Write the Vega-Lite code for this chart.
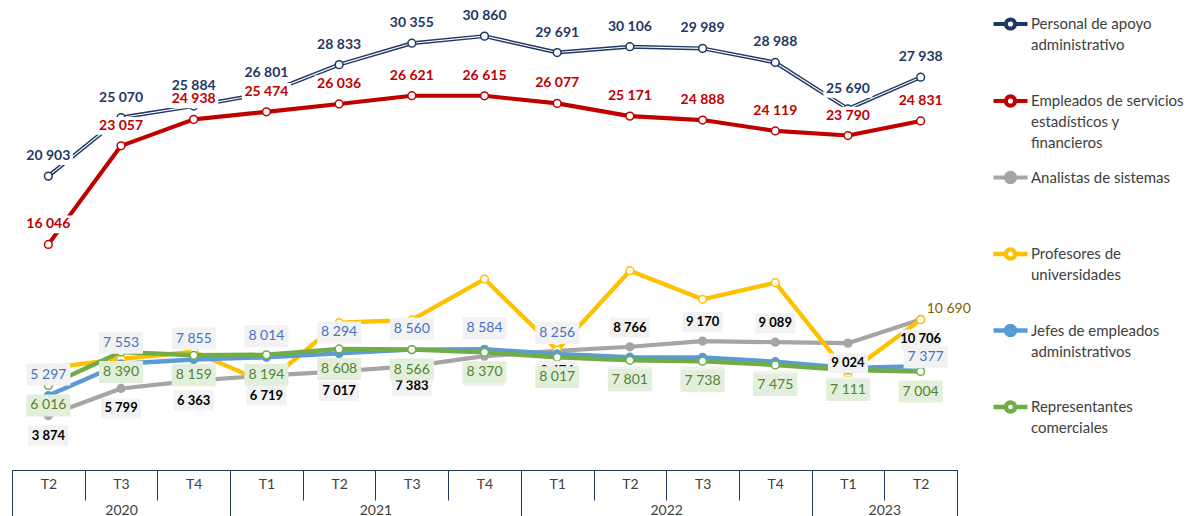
{
"$schema": "https://vega.github.io/schema/vega-lite/v6.json",
"width": 945, "height": 470,
"autosize": {"type": "none"},
"padding": {"left": 12, "top": 0, "right": 241, "bottom": 46},
"config": {"view": {"stroke": null}, "font": "Lato",
  "locale": {"number": {"decimal": ",", "thousands": "\u00a0", "grouping": [3], "currency": ["", "\u00a0€"]}}},
"data": {"values": [
{"p":"2020-T2","s":"Personal de apoyo administrativo","v":20903},
{"p":"2020-T3","s":"Personal de apoyo administrativo","v":25070},
{"p":"2020-T4","s":"Personal de apoyo administrativo","v":25884},
{"p":"2021-T1","s":"Personal de apoyo administrativo","v":26801},
{"p":"2021-T2","s":"Personal de apoyo administrativo","v":28833},
{"p":"2021-T3","s":"Personal de apoyo administrativo","v":30355},
{"p":"2021-T4","s":"Personal de apoyo administrativo","v":30860},
{"p":"2022-T1","s":"Personal de apoyo administrativo","v":29691},
{"p":"2022-T2","s":"Personal de apoyo administrativo","v":30106},
{"p":"2022-T3","s":"Personal de apoyo administrativo","v":29989},
{"p":"2022-T4","s":"Personal de apoyo administrativo","v":28988},
{"p":"2023-T1","s":"Personal de apoyo administrativo","v":25690},
{"p":"2023-T2","s":"Personal de apoyo administrativo","v":27938},
{"p":"2020-T2","s":"Empleados de servicios estadísticos y financieros","v":16046},
{"p":"2020-T3","s":"Empleados de servicios estadísticos y financieros","v":23057},
{"p":"2020-T4","s":"Empleados de servicios estadísticos y financieros","v":24938},
{"p":"2021-T1","s":"Empleados de servicios estadísticos y financieros","v":25474},
{"p":"2021-T2","s":"Empleados de servicios estadísticos y financieros","v":26036},
{"p":"2021-T3","s":"Empleados de servicios estadísticos y financieros","v":26621},
{"p":"2021-T4","s":"Empleados de servicios estadísticos y financieros","v":26615},
{"p":"2022-T1","s":"Empleados de servicios estadísticos y financieros","v":26077},
{"p":"2022-T2","s":"Empleados de servicios estadísticos y financieros","v":25171},
{"p":"2022-T3","s":"Empleados de servicios estadísticos y financieros","v":24888},
{"p":"2022-T4","s":"Empleados de servicios estadísticos y financieros","v":24119},
{"p":"2023-T1","s":"Empleados de servicios estadísticos y financieros","v":23790},
{"p":"2023-T2","s":"Empleados de servicios estadísticos y financieros","v":24831},
{"p":"2020-T2","s":"Analistas de sistemas","v":3874},
{"p":"2020-T3","s":"Analistas de sistemas","v":5799},
{"p":"2020-T4","s":"Analistas de sistemas","v":6363},
{"p":"2021-T1","s":"Analistas de sistemas","v":6719},
{"p":"2021-T2","s":"Analistas de sistemas","v":7017},
{"p":"2021-T3","s":"Analistas de sistemas","v":7383},
{"p":"2021-T4","s":"Analistas de sistemas","v":8100},
{"p":"2022-T1","s":"Analistas de sistemas","v":8474},
{"p":"2022-T2","s":"Analistas de sistemas","v":8766},
{"p":"2022-T3","s":"Analistas de sistemas","v":9170},
{"p":"2022-T4","s":"Analistas de sistemas","v":9089},
{"p":"2023-T1","s":"Analistas de sistemas","v":9024},
{"p":"2023-T2","s":"Analistas de sistemas","v":10706},
{"p":"2020-T2","s":"Profesores de universidades","v":7254},
{"p":"2020-T3","s":"Profesores de universidades","v":7895},
{"p":"2020-T4","s":"Profesores de universidades","v":8414},
{"p":"2021-T1","s":"Profesores de universidades","v":6188},
{"p":"2021-T2","s":"Profesores de universidades","v":10476},
{"p":"2021-T3","s":"Profesores de universidades","v":10670},
{"p":"2021-T4","s":"Profesores de universidades","v":13585},
{"p":"2022-T1","s":"Profesores de universidades","v":8535},
{"p":"2022-T2","s":"Profesores de universidades","v":14175},
{"p":"2022-T3","s":"Profesores de universidades","v":12141},
{"p":"2022-T4","s":"Profesores de universidades","v":13322},
{"p":"2023-T1","s":"Profesores de universidades","v":6877},
{"p":"2023-T2","s":"Profesores de universidades","v":10690},
{"p":"2020-T2","s":"Jefes de empleados administrativos","v":5297},
{"p":"2020-T3","s":"Jefes de empleados administrativos","v":7553},
{"p":"2020-T4","s":"Jefes de empleados administrativos","v":7855},
{"p":"2021-T1","s":"Jefes de empleados administrativos","v":8014},
{"p":"2021-T2","s":"Jefes de empleados administrativos","v":8294},
{"p":"2021-T3","s":"Jefes de empleados administrativos","v":8560},
{"p":"2021-T4","s":"Jefes de empleados administrativos","v":8584},
{"p":"2022-T1","s":"Jefes de empleados administrativos","v":8256},
{"p":"2022-T2","s":"Jefes de empleados administrativos","v":8020},
{"p":"2022-T3","s":"Jefes de empleados administrativos","v":8010},
{"p":"2022-T4","s":"Jefes de empleados administrativos","v":7700},
{"p":"2023-T1","s":"Jefes de empleados administrativos","v":7264},
{"p":"2023-T2","s":"Jefes de empleados administrativos","v":7377},
{"p":"2020-T2","s":"Representantes comerciales","v":6016},
{"p":"2020-T3","s":"Representantes comerciales","v":8390},
{"p":"2020-T4","s":"Representantes comerciales","v":8159},
{"p":"2021-T1","s":"Representantes comerciales","v":8194},
{"p":"2021-T2","s":"Representantes comerciales","v":8608},
{"p":"2021-T3","s":"Representantes comerciales","v":8566},
{"p":"2021-T4","s":"Representantes comerciales","v":8370},
{"p":"2022-T1","s":"Representantes comerciales","v":8017},
{"p":"2022-T2","s":"Representantes comerciales","v":7801},
{"p":"2022-T3","s":"Representantes comerciales","v":7738},
{"p":"2022-T4","s":"Representantes comerciales","v":7475},
{"p":"2023-T1","s":"Representantes comerciales","v":7111},
{"p":"2023-T2","s":"Representantes comerciales","v":7004}
]},
"layer": [
 {
  "encoding": {
    "x": {"field": "p", "type": "ordinal", "scale": {"type": "point", "padding": 0.5},
      "axis": {"orient": "bottom", "title": null, "ticks": false, "grid": false, "labelPadding": 7,
        "labelExpr": "substring(datum.value, 5)", "labelFont": "Lato", "labelFontSize": 14, "labelColor": "#404040",
        "labelAngle": 0, "domainColor": "#1F3864", "domainWidth": 1}},
    "y": {"field": "v", "type": "quantitative", "scale": {"domain": [0, 33430], "nice": false, "zero": true}, "axis": null}
  },
  "layer": [
    {"mark": {"type": "line", "strokeJoin": "round"},
     "encoding": {
       "stroke": {"field": "s", "type": "nominal",
         "scale": {"domain": ["Personal de apoyo administrativo","Empleados de servicios estadísticos y financieros","Analistas de sistemas","Profesores de universidades","Jefes de empleados administrativos","Representantes comerciales"],
                   "range": ["#1F3864","#C00000","#A5A5A5","#FFC000","#5B9BD5","#70AD47"]},
         "legend": {"orient": "none", "legendX": 979, "legendY": 5, "title": null, "padding": 0,
           "symbolType": "M-1,0H-0.27M0.27,0H1M-0.27,0A0.27,0.27 0 1,1 0.27,0A0.27,0.27 0 1,1 -0.27,0",
           "symbolSize": 1156, "symbolStrokeWidth": 2.8, "labelFont": "Lato", "labelFontSize": 15, "labelColor": "#404040",
           "labelLimit": 0, "labelOffset": 1, "gridAlign": "all", "rowPadding": 6.5,
           "encoding": {"labels": {"lineHeight": {"value": 21}}},
           "labelExpr": "datum.label == 'Personal de apoyo administrativo' ? ['Personal de apoyo','administrativo'] : datum.label == 'Empleados de servicios estadísticos y financieros' ? ['Empleados de servicios','estadísticos y','financieros'] : datum.label == 'Profesores de universidades' ? ['Profesores de','universidades'] : datum.label == 'Jefes de empleados administrativos' ? ['Jefes de empleados','administrativos'] : datum.label == 'Representantes comerciales' ? ['Representantes','comerciales'] : datum.label"}},
       "strokeWidth": {"field": "s", "type": "nominal", "legend": null,
         "scale": {"domain": ["Personal de apoyo administrativo","Empleados de servicios estadísticos y financieros","Analistas de sistemas","Profesores de universidades","Jefes de empleados administrativos","Representantes comerciales"],
                   "range": [4, 4.5, 3.5, 3, 3.5, 3.5]}}
     }},
    {"transform": [{"filter": "datum.s == 'Personal de apoyo administrativo'"}],
     "mark": {"type": "line", "stroke": "white", "strokeWidth": 1.1, "strokeJoin": "round"}, "encoding": {}},
    {"mark": {"type": "point", "filled": true, "size": 60, "strokeWidth": 1.5, "opacity": 1},
     "encoding": {
       "stroke": {"field": "s", "type": "nominal"},
       "fill": {"field": "s", "type": "nominal",
         "scale": {"domain": ["Personal de apoyo administrativo","Empleados de servicios estadísticos y financieros","Analistas de sistemas","Profesores de universidades","Jefes de empleados administrativos","Representantes comerciales"],
                   "range": ["white","white","#A5A5A5","white","#5B9BD5","white"]}}
     }},
    {"transform": [{"filter": "datum.s == 'Personal de apoyo administrativo' || datum.s == 'Empleados de servicios estadísticos y financieros'"}],
     "layer": [
       {"mark": {"type": "point", "shape": "M-1,-0.36H1V0.36H-1Z", "size": 2400, "filled": true, "fill": "white", "strokeWidth": 0, "opacity": 1, "yOffset": -20}},
       {"mark": {"type": "text", "font": "Lato", "fontSize": 14, "fontWeight": "bold", "baseline": "middle", "yOffset": -20},
        "encoding": {"text": {"field": "v", "type": "quantitative", "format": ","},
          "color": {"field": "s", "type": "nominal", "legend": null,
            "scale": {"domain": ["Personal de apoyo administrativo","Empleados de servicios estadísticos y financieros","Analistas de sistemas","Profesores de universidades","Jefes de empleados administrativos","Representantes comerciales"],
                      "range": ["#1F3864","#C00000","#000000","#7F6000","#4472C4","#548235"]}}}}
     ]},
    {"transform": [{"filter": "datum.s == 'Analistas de sistemas' && indexof(['2022-T2','2022-T3','2022-T4'], datum.p) < 0"}],
     "layer": [
       {"mark": {"type": "point", "shape": "M-1,-0.5H1V0.5H-1Z", "size": 1600, "filled": true, "fill": "#F2F2F2", "strokeWidth": 0, "opacity": 1, "yOffset": 20}},
       {"mark": {"type": "text", "font": "Lato", "fontSize": 13, "fontWeight": "bold", "baseline": "middle", "yOffset": 20},
        "encoding": {"text": {"field": "v", "type": "quantitative", "format": ","}, "color": {"field": "s", "type": "nominal", "legend": null}}}
     ]},
    {"transform": [{"filter": "datum.s == 'Analistas de sistemas' && indexof(['2022-T2','2022-T3','2022-T4'], datum.p) >= 0"}],
     "layer": [
       {"mark": {"type": "point", "shape": "M-1,-0.5H1V0.5H-1Z", "size": 1600, "filled": true, "fill": "#F2F2F2", "strokeWidth": 0, "opacity": 1, "yOffset": -19}},
       {"mark": {"type": "text", "font": "Lato", "fontSize": 13, "fontWeight": "bold", "baseline": "middle", "yOffset": -19},
        "encoding": {"text": {"field": "v", "type": "quantitative", "format": ","}, "color": {"field": "s", "type": "nominal", "legend": null}}}
     ]},
    {"transform": [{"filter": "datum.s == 'Jefes de empleados administrativos' && datum.p <= '2022-T1'"}],
     "layer": [
       {"mark": {"type": "point", "shape": "M-1,-0.5H1V0.5H-1Z", "size": 1936, "filled": true, "fill": "#F2F2F2", "strokeWidth": 0, "opacity": 1, "yOffset": -21}},
       {"mark": {"type": "text", "font": "Lato", "fontSize": 14, "baseline": "middle", "yOffset": -21},
        "encoding": {"text": {"field": "v", "type": "quantitative", "format": ","}, "color": {"field": "s", "type": "nominal", "legend": null}}}
     ]},
    {"transform": [{"filter": "datum.s == 'Jefes de empleados administrativos' && datum.p >= '2022-T2' && datum.p <= '2023-T1'"}],
     "layer": [
       {"mark": {"type": "point", "shape": "M-1,-0.5H1V0.5H-1Z", "size": 1936, "filled": true, "fill": "#F2F2F2", "strokeWidth": 0, "opacity": 1, "yOffset": 20}},
       {"mark": {"type": "text", "font": "Lato", "fontSize": 14, "baseline": "middle", "yOffset": 20},
        "encoding": {"text": {"field": "v", "type": "quantitative", "format": ","}, "color": {"field": "s", "type": "nominal", "legend": null}}}
     ]},
    {"transform": [{"filter": "datum.s == 'Jefes de empleados administrativos' && datum.p == '2023-T2'"}],
     "layer": [
       {"mark": {"type": "point", "shape": "M-1,-0.5H1V0.5H-1Z", "size": 1936, "filled": true, "fill": "#F2F2F2", "strokeWidth": 0, "opacity": 1, "yOffset": -9, "xOffset": 5}},
       {"mark": {"type": "text", "font": "Lato", "fontSize": 14, "baseline": "middle", "yOffset": -9, "xOffset": 5},
        "encoding": {"text": {"field": "v", "type": "quantitative", "format": ","}, "color": {"field": "s", "type": "nominal", "legend": null}}}
     ]},
    {"transform": [{"filter": "datum.s == 'Representantes comerciales'"}],
     "layer": [
       {"mark": {"type": "point", "shape": "M-1,-0.5H1V0.5H-1Z", "size": 1936, "filled": true, "fill": "#E2EFDA", "strokeWidth": 0, "opacity": 1, "yOffset": 20}},
       {"mark": {"type": "text", "font": "Lato", "fontSize": 14, "baseline": "middle", "yOffset": 20},
        "encoding": {"text": {"field": "v", "type": "quantitative", "format": ","}, "color": {"field": "s", "type": "nominal", "legend": null}}}
     ]},
    {"transform": [{"filter": "datum.s == 'Profesores de universidades' && datum.p == '2023-T2'"}],
     "mark": {"type": "text", "font": "Lato", "fontSize": 14, "baseline": "middle", "align": "left", "dx": 6, "dy": -11},
     "encoding": {"text": {"field": "v", "type": "quantitative", "format": ","}, "color": {"field": "s", "type": "nominal", "legend": null}}}
  ]
 },
 {"mark": {"type": "point", "opacity": 0},
  "encoding": {"x": {"datum": 0, "type": "quantitative", "scale": {"domain": [0, 13], "nice": false, "zero": false},
    "axis": {"orient": "bottom", "values": [1.5, 5, 9, 12], "labelExpr": "datum.value == 1.5 ? '2020' : datum.value == 5 ? '2021' : datum.value == 9 ? '2022' : '2023'",
      "ticks": false, "domain": false, "grid": false, "title": null, "offset": 30, "labelPadding": 3,
      "labelFont": "Lato", "labelFontSize": 14, "labelColor": "#404040", "labelFlush": false}}}},
 {"mark": {"type": "point", "opacity": 0},
  "encoding": {"x": {"datum": 0, "type": "quantitative", "scale": {"domain": [0, 13], "nice": false, "zero": false},
    "axis": {"orient": "bottom", "values": [0,1,2,3,4,5,6,7,8,9,10,11,12,13], "labels": false,
      "ticks": true, "tickSize": 30, "tickColor": "#1F3864", "domain": false, "grid": false, "title": null}}}},
 {"mark": {"type": "point", "opacity": 0},
  "encoding": {"x": {"datum": 0, "type": "quantitative", "scale": {"domain": [0, 13], "nice": false, "zero": false},
    "axis": {"orient": "bottom", "values": [0, 3, 7, 11, 13], "labels": false,
      "ticks": true, "tickSize": 46, "tickColor": "#1F3864", "domain": false, "grid": false, "title": null}}}}
],
"resolve": {"scale": {"x": "independent"}, "axis": {"x": "independent"}}
}
